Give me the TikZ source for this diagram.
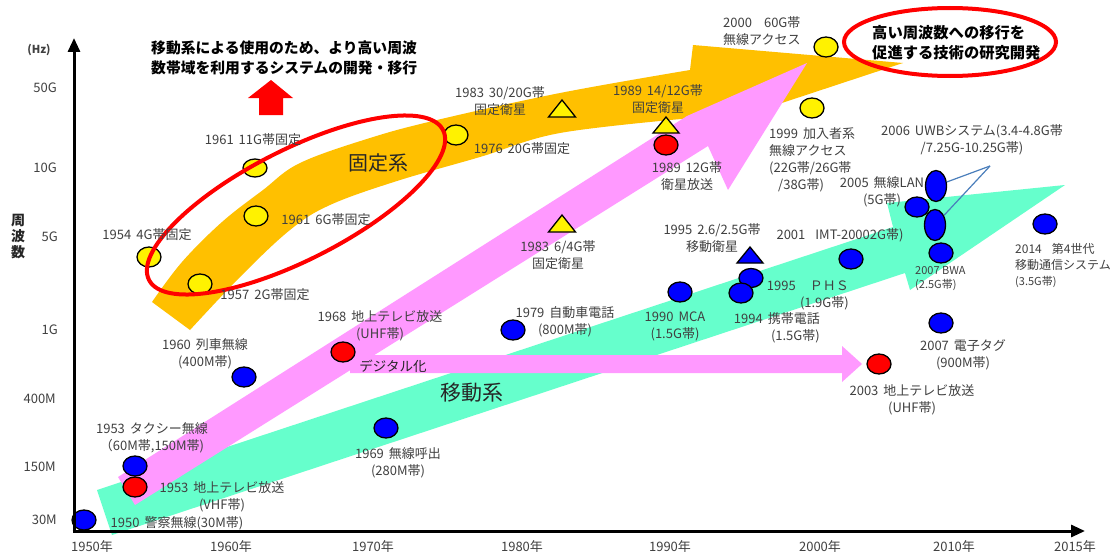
\documentclass[tikz,border=0pt]{standalone}
\usepackage{fontspec}
\setmainfont{Noto Sans CJK JP}
\usetikzlibrary{arrows.meta,shapes.geometric}
\definecolor{bandor}{HTML}{FFC000}
\definecolor{pinkb}{HTML}{FF99FF}
\definecolor{mint}{HTML}{66FFCC}
\definecolor{txt}{HTML}{404040}
\definecolor{uwbc}{HTML}{4A7EBB}
\newcommand\yrgap{\hspace{5pt}}
\begin{document}
\begin{tikzpicture}[x=1pt,y=-1pt,
  mk/.style={ellipse,draw=black,line width=1.3pt,inner sep=0pt,minimum width=24pt,minimum height=20pt},
  bm/.style={mk,fill=blue},
  ym/.style={mk,fill=yellow},
  rm/.style={mk,fill=red},
  tall/.style={minimum width=21pt,minimum height=31pt},
  tri/.style={draw=black,line width=1.3pt,line join=miter},
  lbl/.style={text=txt,inner sep=0pt,align=center,font=\fontsize{13}{17}\selectfont},
  tick/.style={text=txt,inner sep=0pt,font=\fontsize{13}{15}\selectfont},
  big/.style={text=black!85,inner sep=0pt,font=\fontsize{20}{24}\selectfont},
  head/.style={text=black,inner sep=0pt,align=left,font=\fontsize{14.8}{20}\selectfont\bfseries},
  axis/.style={line width=3pt,-{Triangle[length=14pt,width=12pt]}}
]
\useasboundingbox (0,0) rectangle (1118,551);
\fill[white] (0,0) rectangle (1118,551);

% bands
\fill[mint] (97,490) -- (893,227) -- (887,203) -- (1065,185) -- (910,290) -- (905,273) -- (112,535) -- cycle;
\fill[bandor] plot[smooth,tension=0.6] coordinates {(152,302) (182,262) (222,222) (263,190) (300,163) (370,138) (437,120) (560,93) (690,70)}
  -- (693,45) -- (903,63) -- (697,131) -- (692,118)
  -- plot[smooth,tension=0.6] coordinates {(692,118) (560,133) (480,157) (397,181) (330,205) (290,230) (240,277) (190,330)} -- cycle;
\fill[pinkb] (118,477) -- (687,116) -- (807,63) -- (728,190) -- (708,146) -- (135,505) -- cycle;
\fill[pinkb] (350,355) -- (842,355) -- (842,346) -- (862,364) -- (842,382) -- (842,373) -- (350,373) -- cycle;

% red up arrow
\fill[red] (259,115) -- (259,98) -- (248,98) -- (271,80) -- (293,98) -- (283,98) -- (283,115) -- cycle;

% triangles
\path[tri,fill=yellow] (562,100) -- (575.5,117) -- (548.5,117) -- cycle;
\path[tri,fill=yellow] (666,117) -- (679,133) -- (653,133) -- cycle;
\path[tri,fill=yellow] (562,215) -- (575.5,232) -- (548.5,232) -- cycle;
\path[tri,fill=blue] (750,247) -- (763,263) -- (737,263) -- cycle;

% markers
\node[bm] (m1950) at (84,520) {};
\node[bm] (m1953t) at (135,466) {};
\node[rm] (m1953v) at (135,487) {};
\node[bm] (m1960) at (244,377) {};
\node[rm] (m1968) at (343,352) {};
\node[bm] (m1969) at (386,428) {};
\node[bm] (m1979) at (513,330) {};
\node[bm] (m1990) at (680,292) {};
\node[bm,minimum height=19pt] (m1995p) at (751,278) {};
\node[bm] (m1994) at (741,293) {};
\node[bm] (m2001) at (851,259) {};
\node[bm] (mwx) at (917,207) {};
\node[bm,tall] (m2005) at (936,186) {};
\node[bm,tall] (muwb) at (935,225) {};
\node[bm] (mbwa) at (941,253) {};
\node[bm] (m2014) at (1045,224) {};
\node[bm] (mtag) at (941,323) {};
\node[rm] (m2003) at (879,364) {};
\node[ym,minimum height=18pt] (m11g) at (255,168) {};
\node[ym] (m6g) at (256,216) {};
\node[ym] (m4g) at (149,257) {};
\node[ym] (m2g) at (200,284) {};
\node[ym] (m1976) at (456,135) {};
\node[ym] (m2000) at (826,47) {};
\node[ym] (m1999) at (812,108) {};
\node[rm] (m1989) at (666,145) {};

\coordinate (uwbtip) at (990,166);
\draw[uwbc,line width=1.2pt] (m2005) -- (uwbtip);
\draw[uwbc,line width=1.2pt] (muwb) -- (uwbtip);

% red ellipses
\draw[red,line width=4pt,rotate around={27:(296,205)}] (296,205) ellipse [x radius=165pt, y radius=55pt];
\node[ellipse,draw=red,line width=4pt,minimum width=212pt,minimum height=68pt,inner sep=0pt] (goal) at (950,42) {};
\node[head,anchor=west,font=\fontsize{15.3}{20}\selectfont\bfseries] (goaltxt) at (872,43) {高い周波数への移行を\\促進する技術の研究開発};
\node[head,anchor=west] (toptxt) at (151,58) {移動系による使用のため、より高い周波\\数帯域を利用するシステムの開発・移行};

% labels
\node[lbl] (t11g) at (253,140) {1961\yrgap 11G帯固定};
\node[lbl] (t6g) at (326,220) {1961\yrgap 6G帯固定};
\node[lbl] (t4g) at (147,235) {1954\yrgap 4G帯固定};
\node[lbl] (t2g) at (265,295) {1957\yrgap 2G帯固定};
\node[lbl] (t1960) at (205,354) {1960\yrgap 列車無線\\(400M帯)};
\node[lbl] (t1968) at (380,326) {1968\yrgap 地上テレビ放送\\(UHF帯)};
\node[lbl] (t1983a) at (500,101) {1983\yrgap 30/20G帯\\固定衛星};
\node[lbl] (t1983b) at (558,255) {1983\yrgap 6/4G帯\\固定衛星};
\node[lbl] (t1976) at (522,149) {1976\yrgap 20G帯固定};
\node[lbl] (t1989a) at (658,99) {1989\yrgap 14/12G帯\\固定衛星};
\node[lbl] (t1989b) at (687,176) {1989\yrgap 12G帯\\衛星放送};
\node[lbl,anchor=west,align=left] (t2000) at (723,31) {2000\hspace{12pt}60G帯\\無線アクセス};
\node[lbl,anchor=west,align=left] (t1999) at (769,160) {1999\yrgap 加入者系\\無線アクセス\\(22G帯/26G帯\\\hspace{9pt}/38G帯)};
\node[lbl] (tuwb) at (972,140) {2006\yrgap UWBシステム(3.4-4.8G帯\\/7.25G-10.25G帯)};
\node[lbl] (tlan) at (882,192) {2005\yrgap 無線LAN\\(5G帯)};
\node[lbl] (timt) at (840,235) {2001\hspace{10pt}IMT-20002G帯)};
\node[lbl] (t1995s) at (712,238) {1995\yrgap 2.6/2.5G帯\\移動衛星};
\node[lbl,anchor=east,align=right] (tphs) at (849,295) {1995\hspace{14pt}ＰＨＳ\\(1.9G帯)};
\node[lbl] (tmca) at (675,326) {1990\yrgap MCA\\(1.5G帯)};
\node[lbl,anchor=east,align=right] (t1994) at (820,328) {1994\yrgap 携帯電話\\(1.5G帯)};
\node[lbl] (t1979) at (565,322) {1979\yrgap 自動車電話\\(800M帯)};
\node[lbl,anchor=west,align=left,font=\fontsize{11}{14}\selectfont] (tbwa) at (915,279) {2007 BWA\\(2.5G帯)};
\node[lbl,anchor=west,align=left,font=\fontsize{12}{16}\selectfont] (t2014) at (1015,266) {2014\hspace{10pt}第4世代\\移動通信システム\\{\fontsize{11}{14}\selectfont(3.5G帯)}};
\node[lbl] (ttag) at (963,355) {2007\yrgap 電子タグ\\(900M帯)};
\node[lbl] (t2003) at (912,400) {2003\yrgap 地上テレビ放送\\(UHF帯)};
\node[lbl] (ttaxi) at (152,438) {1953\yrgap タクシー無線\\（60M帯,150M帯)};
\node[lbl] (tvhf) at (222,497) {1953\yrgap 地上テレビ放送\\(VHF帯)};
\node[lbl] (tpol) at (177,523) {1950\yrgap 警察無線(30M帯)};
\node[lbl] (t1969) at (398,463) {1969\yrgap 無線呼出\\(280M帯)};

\node[big] (tfix) at (378,163) {固定系};
\node[big,font=\fontsize{21}{24}\selectfont] (tmob) at (472,393) {移動系};
\node[lbl,text=black!85,font=\fontsize{13.5}{16}\selectfont] (tdig) at (393,366) {デジタル化};

% axes
\coordinate (org) at (74,531);
\coordinate (ytop) at (74,38);
\coordinate (xend) at (1085,531);
\draw[axis] (org) -- (ytop);
\draw[axis] ([xshift=-1.5pt]org) -- (xend);

\node[tick,font=\fontsize{11}{13}\selectfont\bfseries] (hz) at (39,50) {(Hz)};
\node[tick,anchor=east] (y50g) at (57,88) {50G};
\node[tick,anchor=east] (y10g) at (57,168) {10G};
\node[tick,anchor=east] (y5g) at (58,237) {5G};
\node[tick,anchor=east] (y1g) at (58,330) {1G};
\node[tick,anchor=east] (y400) at (56,399) {400M};
\node[tick,anchor=east] (y150) at (56,467) {150M};
\node[tick,anchor=east] (y30) at (57,520) {30M};
\node[text=black!85,inner sep=0pt,align=center,font=\fontsize{14}{16}\selectfont\bfseries] (ylab) at (18,237) {周\\波\\数};

\node[tick,anchor=north] (x1950) at (92,540) {1950年};
\node[tick,anchor=north] (x1960) at (231,540) {1960年};
\node[tick,anchor=north] (x1970) at (373,540) {1970年};
\node[tick,anchor=north] (x1980) at (522,540) {1980年};
\node[tick,anchor=north] (x1990) at (670,540) {1990年};
\node[tick,anchor=north] (x2000) at (820,540) {2000年};
\node[tick,anchor=north] (x2010) at (954,540) {2010年};
\node[tick,anchor=north] (x2015) at (1075,540) {2015年};
\end{tikzpicture}
\end{document}
